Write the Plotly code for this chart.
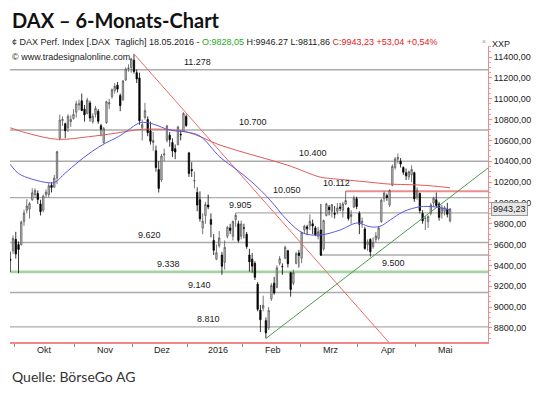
import pandas as pd
import plotly.graph_objects as go

# ---------------- data ----------------
holidays = ["2015-12-24", "2015-12-25", "2015-12-31", "2016-01-01", "2016-03-25", "2016-03-28"]
dates = [d for d in pd.bdate_range("2015-09-29", "2016-05-18") if d.strftime("%Y-%m-%d") not in holidays]

opens = [
    9460, 9540, 9650, 9600, 9600, 9820, 9930, 9940, 10030, 10080,
    10090, 9990, 9930, 10080, 10080, 10170, 10150, 10240, 10620, 10790,
    10760, 10720, 10780, 10810, 10870, 10940, 10980, 10900, 10860, 10960,
    10780, 10850, 10880, 10740, 10580, 10770, 10950, 11020, 11080, 11130,
    11030, 10990, 11180, 11290, 11300, 11370, 11250, 11200, 10720, 10820,
    10800, 10690, 10580, 10500, 10320, 10220, 10460, 10600, 10650, 10580,
    10520, 10560, 10660, 10690, 10830, 10480, 10320, 10210, 10100, 10030,
    9760, 9880, 9980, 9840, 9640, 9460, 9590, 9500, 9430, 9680,
    9760, 9680, 9840, 9800, 9680, 9760, 9700, 9500, 9460, 9420,
    9220, 8970, 8990, 8870, 8800, 9080, 9230, 9190, 9420, 9390,
    9470, 9540, 9330, 9230, 9420, 9520, 9470, 9740, 9770, 9780,
    9800, 9760, 9680, 9740, 9560, 9880, 9960, 9920, 9900, 9920,
    9960, 9930, 9990, 9950, 9870, 9960, 10040, 9900, 9810, 9750,
    9600, 9650, 9580, 9650, 9660, 9820, 10040, 10070, 9980, 10170,
    10340, 10420, 10400, 10340, 10290, 10250, 10270, 10290, 10060, 10090,
    9900, 9850, 9820, 9900, 10000, 10030, 9990, 9900, 9920, 9940,
    9828.05]
highs = [
    9532, 9688, 9722, 9630, 9830, 9935, 10035, 10010, 10140, 10140,
    10120, 10030, 10080, 10130, 10190, 10200, 10270, 10500, 10847, 10830,
    10770, 10850, 10840, 10900, 10980, 10990, 11050, 10940, 11010, 10980,
    10860, 10930, 10900, 10760, 10730, 10980, 11000, 11100, 11150, 11160,
    11050, 11180, 11300, 11330, 11390, 11430, 11280, 11250, 10800, 10960,
    10830, 10780, 10680, 10550, 10400, 10470, 10520, 10750, 10680, 10620,
    10560, 10740, 10700, 10870, 10850, 10490, 10390, 10300, 10150, 10110,
    9900, 10010, 10080, 9900, 9700, 9600, 9730, 9530, 9640, 9780,
    9800, 9830, 9905, 9830, 9830, 9800, 9720, 9560, 9520, 9440,
    9240, 9020, 9110, 8900, 9000, 9230, 9290, 9400, 9490, 9420,
    9590, 9550, 9340, 9360, 9530, 9550, 9720, 9790, 9790, 9890,
    9840, 9780, 9770, 9990, 9840, 10000, 9980, 9990, 9970, 10000,
    10000, 10010, 10112, 9960, 9930, 10070, 10060, 9920, 9860, 9770,
    9650, 9660, 9670, 9720, 9780, 10040, 10110, 10090, 10130, 10370,
    10440, 10474, 10430, 10350, 10330, 10310, 10360, 10300, 10150, 10100,
    9930, 9870, 9880, 10000, 10060, 10100, 10010, 9980, 9970, 10000,
    9946.27]
lows = [
    9338, 9510, 9466, 9325, 9590, 9780, 9900, 9850, 10020, 10050,
    9990, 9880, 9910, 10050, 10050, 10100, 10150, 10180, 10600, 10740,
    10620, 10680, 10730, 10800, 10820, 10890, 10880, 10780, 10850, 10780,
    10760, 10820, 10760, 10640, 10570, 10760, 10900, 11000, 11050, 11060,
    10880, 10980, 11170, 11260, 11250, 11240, 11150, 10750, 10600, 10800,
    10640, 10560, 10500, 10300, 10100, 10200, 10400, 10580, 10540, 10440,
    10420, 10550, 10600, 10680, 10730, 10250, 10250, 10140, 9920, 9820,
    9700, 9800, 9940, 9670, 9500, 9450, 9570, 9310, 9360, 9660,
    9700, 9640, 9770, 9620, 9650, 9660, 9560, 9340, 9330, 9260,
    8960, 8760, 8960, 8699, 8780, 9060, 9120, 9180, 9400, 9310,
    9460, 9380, 9100, 9210, 9410, 9380, 9420, 9700, 9690, 9740,
    9700, 9680, 9650, 9490, 9540, 9870, 9880, 9860, 9850, 9890,
    9920, 9860, 9980, 9830, 9800, 9950, 9940, 9700, 9760, 9550,
    9540, 9485, 9560, 9620, 9640, 9810, 10010, 10020, 9960, 10160,
    10320, 10380, 10340, 10270, 10220, 10220, 10200, 10010, 10030, 9900,
    9800, 9740, 9760, 9880, 9960, 9960, 9830, 9850, 9880, 9860,
    9811.86]
closes = [
    9450, 9660, 9509, 9553, 9815, 9903, 9970, 9993, 10097, 10120,
    10033, 9916, 10065, 10104, 10164, 10148, 10238, 10492, 10795, 10801,
    10692, 10832, 10801, 10850, 10951, 10951, 10887, 10845, 10988, 10815,
    10833, 10908, 10783, 10708, 10713, 10971, 10960, 11085, 11120, 11092,
    10934, 11170, 11285, 11294, 11382, 11261, 11190, 10789, 10752, 10886,
    10674, 10592, 10599, 10340, 10139, 10450, 10469, 10738, 10608, 10498,
    10489, 10728, 10654, 10860, 10743, 10283, 10310, 10214, 9980, 9849,
    9825, 9985, 9961, 9794, 9545, 9522, 9664, 9392, 9574, 9765,
    9736, 9823, 9881, 9640, 9798, 9758, 9581, 9435, 9393, 9286,
    8979, 8879, 9017, 8753, 8968, 9207, 9135, 9377, 9464, 9388,
    9574, 9417, 9168, 9331, 9513, 9495, 9717, 9777, 9752, 9824,
    9779, 9693, 9723, 9498, 9831, 9990, 9934, 9983, 9892, 9951,
    9949, 9990, 10023, 9851, 9888, 10047, 9966, 9795, 9822, 9563,
    9625, 9531, 9622, 9683, 9761, 10027, 10094, 10052, 10120, 10350,
    10421, 10436, 10373, 10294, 10260, 10300, 10321, 10039, 10123, 9927,
    9828, 9852, 9870, 9980, 10045, 9975, 9862, 9953, 9953, 9890,
    9943.23]

# moving averages (bar index, value)
ma_blue_idx = [0, 2.9, 7.8, 13.8, 16.3, 19.9, 24.8, 29.6, 34.5, 39.3, 42.9, 46.6, 49, 52, 58.1, 64.3,
               69, 76.3, 82.5, 88.3, 94.5, 100.7, 106.5, 112.7, 120, 126.2, 130.9, 134.5, 138.2, 143,
               149.1, 154, 157.6, 160]
ma_blue_val = [10370, 10284, 10229, 10194, 10198, 10284, 10395, 10491, 10572, 10635, 10699, 10764, 10773,
               10757, 10699, 10680, 10642, 10440, 10316, 10191, 10028, 9836, 9711, 9692, 9740, 9807, 9771,
               9775, 9836, 9916, 9963, 9963, 9948, 9932]
ma_red_idx = [0, 7.8, 17.5, 28.4, 38.1, 45.4, 52, 64.3, 76.3, 88.3, 100.7, 112.7, 116.4, 128.4, 138.2,
              145.5, 152.7, 160]
ma_red_val = [10721, 10658, 10610, 10635, 10668, 10699, 10709, 10680, 10555, 10459, 10364, 10248, 10235,
              10205, 10180, 10175, 10165, 10145]

# horizontal levels
levels = [11278, 10700, 10400, 10050, 10112, 9905, 9620, 9338, 9140, 8810, 9500]
level_labels = ["11.278", "10.700", "10.400", "10.050", "10.112", "9.905", "9.620", "9.338", "9.140", "8.810", "9.500"]
level_start = [None, None, None, None, 122, 82, None, None, None, None, 113]
level_kind = ["grey", "grey", "grey", "grey", "red", "grey", "grey", "green", "grey", "grey", "grey"]
level_label_bar = [68, 88.3, 110, 100.7, 118.5, 83.6, 50.8, 57.5, 69, 72, 139.5]

# trend lines (anchor bar, value)
down_trend = [(45, 11430), (137.6, 8665)]
up_trend = [(93, 8699), (173.8, 10335)]

month_names = ["Okt", "Nov", "Dez", "2016", "Feb", "Mrz", "Apr", "Mai"]
y_ticks = [8800, 9000, 9200, 9400, 9600, 9800, 10000, 10200, 10400, 10600, 10800, 11000, 11200, 11400]

assert len(dates) == len(opens) == len(highs) == len(lows) == len(closes) == 161

# ---------------- figure ----------------
W, H = 540, 394
PL, PR, PT, PB = 10, 488, 46, 342
XR = [-0.1, 173.8]
YR = [8665, 11506]
FONT = "Liberation Sans, Arial, sans-serif"

def px(x):
    return (x - PL) / (PR - PL)

def py(y):
    return (PB - y) / (PB - PT)

xi = list(range(len(dates)))

fig = go.Figure()

colors = {"grey": ("#ababab", 1.3), "red": ("#ee8c8c", 2.0), "green": ("#a6d3a6", 2.6)}
for v, s, k in zip(levels, level_start, level_kind):
    c, w = colors[k]
    fig.add_shape(type="line", xref="x", yref="y", x0=XR[0] if s is None else s, x1=XR[1],
                  y0=v, y1=v, line=dict(color=c, width=w), layer="below")

fig.add_trace(go.Scatter(x=[p[0] for p in down_trend], y=[p[1] for p in down_trend], mode="lines",
                         line=dict(color="#f06a6a", width=1), hoverinfo="skip", showlegend=False))
fig.add_trace(go.Scatter(x=[p[0] for p in up_trend], y=[p[1] for p in up_trend], mode="lines",
                         line=dict(color="#4f9a4f", width=1), hoverinfo="skip", showlegend=False))

fig.add_trace(go.Scatter(x=ma_red_idx, y=ma_red_val, mode="lines", line=dict(color="#e25a5a", width=1, shape="spline"),
                         hoverinfo="skip", showlegend=False))
fig.add_trace(go.Scatter(x=ma_blue_idx, y=ma_blue_val, mode="lines", line=dict(color="#5a5ae6", width=1, shape="spline"),
                         hoverinfo="skip", showlegend=False))

fig.add_trace(go.Candlestick(
    x=xi, open=opens, high=highs, low=lows, close=closes,
    increasing=dict(fillcolor="#d9d9d9", line=dict(color="#555555", width=0.8)),
    decreasing=dict(fillcolor="#000000", line=dict(color="#000000", width=0.8)),
    whiskerwidth=0, showlegend=False))

ann = []
for v, lab, b in zip(levels, level_labels, level_label_bar):
    below = lab == "9.500"
    ann.append(dict(x=b, y=v, xref="x", yref="y", text=lab, showarrow=False,
                    yanchor="top" if below else "bottom", yshift=-1 if below else 1,
                    font=dict(family=FONT, size=9, color="#1a1a1a")))

month_first = []
prev = None
for i, d in enumerate(dates):
    if d.month != prev:
        if i > 0:
            month_first.append(i)
        prev = d.month
for name, f in zip(month_names, month_first):
    ann.append(dict(x=f + 10.5, y=py(350), xref="x", yref="paper", text=name, showarrow=False,
                    yanchor="middle", font=dict(family=FONT, size=9, color="#222")))
tick_pos = [f - 0.5 for f in month_first]

ann.append(dict(x=px(10), y=py(20), xref="paper", yref="paper", xanchor="left", yanchor="middle",
                text="<b>DAX – 6-Monats-Chart</b>", showarrow=False,
                font=dict(family="Lato, Carlito, sans-serif", size=20, color="#111")))
ann.append(dict(x=px(10), y=py(42.5), xref="paper", yref="paper", xanchor="left", yanchor="middle",
                text=("¢ DAX Perf. Index [.DAX  Täglich] 18.05.2016 - "
                      "<span style='color:#22aa22'>O:9828,05</span> H:9946.27 L:9811,86 "
                      "<span style='color:#e02020'>C:9943,23 +53,04 +0,54%</span>"),
                showarrow=False, font=dict(family=FONT, size=9, color="#222")))
ann.append(dict(x=px(10), y=py(57), xref="paper", yref="paper", xanchor="left", yanchor="middle",
                text="© www.tradesignalonline.com", showarrow=False,
                font=dict(family=FONT, size=9, color="#222")))
ann.append(dict(x=px(490), y=py(44), xref="paper", yref="paper", xanchor="left", yanchor="middle",
                text="XXP", showarrow=False, font=dict(family=FONT, size=9, color="#222")))
ann.append(dict(x=px(484), y=py(42), xref="paper", yref="paper", xanchor="center", yanchor="middle",
                text="×", showarrow=False, font=dict(family=FONT, size=7, color="#999")))
ann.append(dict(x=1, y=closes[-1], xref="paper", yref="y", xanchor="left", yanchor="middle", xshift=3,
                text="9943,23", showarrow=False, bgcolor="#e6e6e6", bordercolor="#9a9a9a", borderwidth=1,
                borderpad=1, font=dict(family=FONT, size=9, color="#222")))
ann.append(dict(x=px(10), y=py(376), xref="paper", yref="paper", xanchor="left", yanchor="middle",
                text="Quelle: BörseGo AG", showarrow=False,
                font=dict(family="Lato, Carlito, sans-serif", size=14, color="#333")))

fig.update_layout(
    width=W, height=H, margin=dict(l=PL, r=W - PR, t=PT, b=H - PB),
    paper_bgcolor="white", plot_bgcolor="white", showlegend=False,
    annotations=ann, boxgap=0.3,
    xaxis=dict(range=XR, rangeslider=dict(visible=False), showgrid=False, zeroline=False,
               tickvals=tick_pos, ticktext=[""] * len(tick_pos), ticks="outside", ticklen=3,
               tickcolor="#888", showline=True, linecolor="#f08a8a", linewidth=1.5),
    yaxis=dict(range=YR, side="right", showgrid=False, zeroline=False,
               tickvals=y_ticks, ticktext=[f"{v},00" for v in y_ticks],
               ticks="outside", ticklen=3, tickcolor="#f08a8a",
               minor=dict(dtick=50, ticks="outside", ticklen=2, tickcolor="#f4a0a0"),
               showline=True, linecolor="#f08a8a", linewidth=1,
               tickfont=dict(family=FONT, size=9, color="#222")),
)

fig.write_html("out.html", config={"displayModeBar": False},
               post_script="document.body.style.margin='0px';")
